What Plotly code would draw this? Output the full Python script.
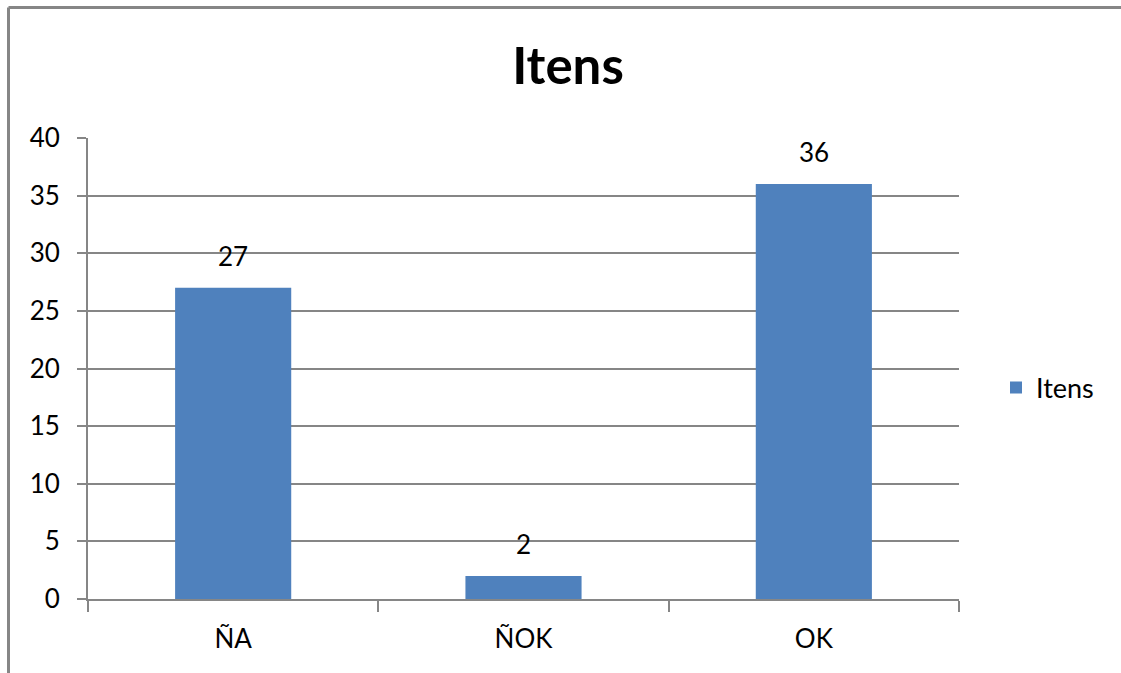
import plotly.graph_objects as go

categories = ["ÑA", "ÑOK", "OK"]
values = [27, 2, 36]
series_name = "Itens"
title_text = "Itens"

FONT = "Lato"
GRAY = "#868686"
BLUE = "#4F81BD"
FS = 26

W, H = 1121, 673
L, R, T, B = 88, 162, 138, 74
pw = W - L - R
ph = H - T - B

fig = go.Figure()
fig.add_trace(go.Bar(
    x=categories, y=values, name=series_name,
    marker=dict(color=BLUE, line=dict(width=0)),
    showlegend=True,
))

for c, v in zip(categories, values):
    fig.add_annotation(x=c, y=v, text=str(v), showarrow=False,
                       yanchor="bottom", yshift=14,
                       font=dict(family=FONT, size=FS, color="black"))

fig.update_layout(
    width=W, height=H,
    margin=dict(l=L, r=R, t=T, b=B, autoexpand=False),
    paper_bgcolor="white", plot_bgcolor="white",
    bargap=0.6,
    font=dict(family=FONT, size=FS, color="black"),
    title=dict(text=title_text, x=568 / W, xanchor="center",
               y=1 - 66 / H, yanchor="middle", yref="container",
               font=dict(family=FONT, size=51, color="black", weight="bold")),
    showlegend=True,
    legend=dict(x=(996 - L) / pw, xanchor="left", y=(599 - 388) / ph, yanchor="middle",
                font=dict(family=FONT, size=27, color="black"),
                bgcolor="rgba(0,0,0,0)", borderwidth=0),
    xaxis=dict(showline=True, linecolor=GRAY, linewidth=2,
               ticks="outside", tickson="boundaries", ticklen=11, tickcolor=GRAY, tickwidth=2,
               showgrid=False, ticklabelstandoff=16,
               tickfont=dict(family=FONT, size=FS, color="black")),
    yaxis=dict(range=[0, 40], dtick=5, showline=True, linecolor=GRAY, linewidth=2,
               ticks="outside", ticklen=9, tickcolor=GRAY, tickwidth=2,
               showgrid=True, gridcolor=GRAY, gridwidth=1.5, zeroline=False,
               ticklabelstandoff=12,
               tickfont=dict(family=FONT, size=FS, color="black")),
    shapes=[
        dict(type="line", xref="paper", yref="paper",
             x0=(8.5 - L) / pw, x1=(1121 - L) / pw,
             y0=(599 - 7.5) / ph, y1=(599 - 7.5) / ph,
             line=dict(color=GRAY, width=3), layer="below"),
        dict(type="line", xref="paper", yref="paper",
             x0=(8.5 - L) / pw, x1=(8.5 - L) / pw,
             y0=(599 - 7.5) / ph, y1=(599 - 673) / ph,
             line=dict(color=GRAY, width=3), layer="below"),
    ],
)

fig.write_html("out.html", config={"displayModeBar": False})
